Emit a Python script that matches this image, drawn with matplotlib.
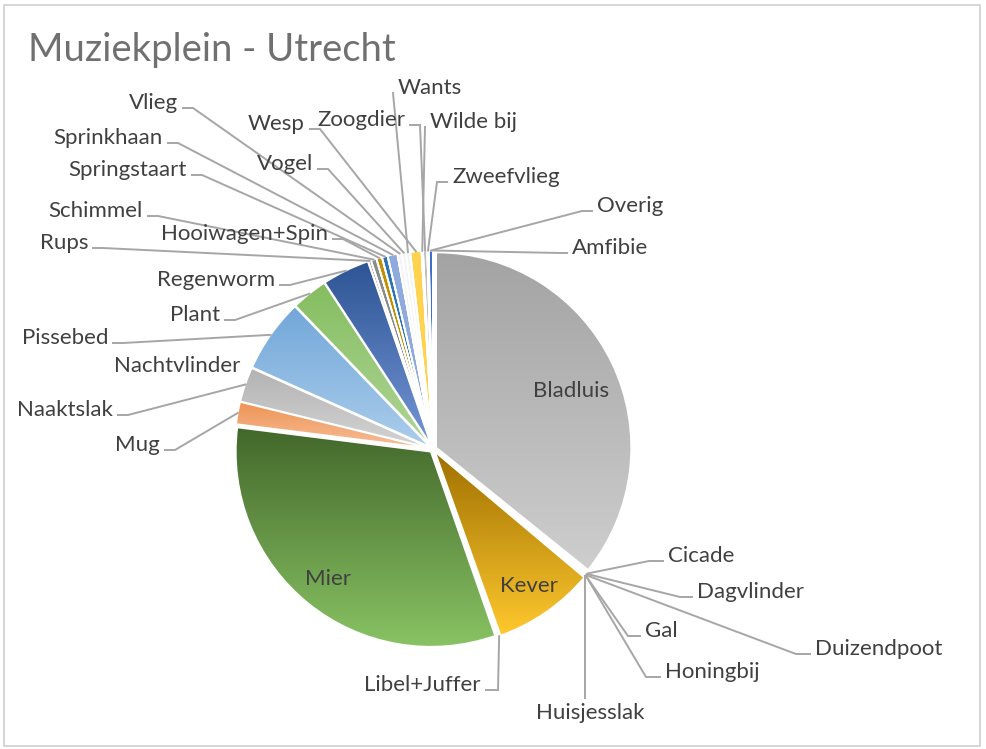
import numpy as np
import matplotlib
matplotlib.use("Agg")
import matplotlib.pyplot as plt
from matplotlib.colors import LinearSegmentedColormap
from matplotlib.patches import Wedge, Rectangle

plt.rcParams['font.family'] = ['Lato', 'DejaVu Sans']

# data, clockwise from 12 o'clock
categories = ["Amfibie", "Bladluis", "Cicade", "Dagvlinder", "Duizendpoot", "Gal",
              "Honingbij", "Huisjesslak", "Kever", "Libel+Juffer", "Mier", "Mug",
              "Naaktslak", "Nachtvlinder", "Pissebed", "Plant", "Regenworm", "Rups",
              "Schimmel", "Hooiwagen+Spin", "Springstaart", "Sprinkhaan", "Vlieg",
              "Vogel", "Wants", "Wesp", "Wilde bij", "Zoogdier", "Zweefvlieg", "Overig"]
counts = [0, 311, 0, 1, 1, 0,
          0, 1, 73, 1, 281, 16,
          25, 0, 53, 26, 34, 2,
          4, 4, 4, 7, 3,
          3, 3, 8, 1, 3, 1, 3]

# gradient fill per slice (top colour, bottom colour)
top_colors = ["#4472C4", "#A3A3A3", "#FFC000", "#9DC3E6", "#70AD47", "#264478",
              "#9E480E", "#9DC3E6", "#9E7000", "#264478", "#42672A", "#EE9352",
              "#B3B3B3", "#FFD966", "#72A7D9", "#84BD5F", "#2D5494", "#A5A5A5",
              "#8C8C8C", "#BF9000", "#2E75B6", "#8FAADC", "#F4F4F4",
              "#F4F4F4", "#F4F4F4", "#FFD34F", "#E0E0E0", "#BFBFBF", "#F0F0F0", "#3F6FC6"]
bottom_colors = list(top_colors)
bottom_colors[1] = "#CECECE"
bottom_colors[8] = "#FFC82E"
bottom_colors[10] = "#89C364"
bottom_colors[11] = "#F7BE98"
bottom_colors[12] = "#D4D4D4"
bottom_colors[14] = "#ABCDEB"
bottom_colors[15] = "#B0D597"
bottom_colors[16] = "#7595D6"

W, H = 986, 749


def img(x, y):
    # picture pixel -> data coords (y up)
    return x, H - y


# text positions in picture pixels: (x, y, ha, stub)
label_pos = {
    "Vlieg": (178, 103, "right", 10),
    "Sprinkhaan": (163, 138, "right", 10),
    "Springstaart": (187, 170, "right", 10),
    "Schimmel": (143, 211, "right", 10),
    "Rups": (88, 243, "right", 10),
    "Hooiwagen+Spin": (328, 234, "right", 10),
    "Vogel": (313, 164, "right", 10),
    "Wesp": (305, 124, "right", 10),
    "Zoogdier": (405, 120, "right", 10),
    "Regenworm": (275, 280, "right", 10),
    "Plant": (220, 315, "right", 10),
    "Pissebed": (108, 338, "right", 10),
    "Nachtvlinder": (240, 366, "right", None),
    "Naaktslak": (113, 410, "right", 10),
    "Mug": (160, 445, "right", 10),
    "Libel+Juffer": (481, 685, "right", 12),
    "Wants": (398, 88, "left", 0),
    "Wilde bij": (430, 122, "left", 0),
    "Zweefvlieg": (452, 177, "left", 10),
    "Overig": (597, 206, "left", 10),
    "Amfibie": (572, 248, "left", 6),
    "Cicade": (668, 556, "left", 14),
    "Dagvlinder": (697, 592, "left", 12),
    "Duizendpoot": (815, 649, "left", 14),
    "Gal": (645, 631, "left", 12),
    "Honingbij": (665, 672, "left", 14),
    "Huisjesslak": (590, 713, "center", 0),
}
# inside labels: (fraction of radius, angle shift in degrees)
inside = {"Bladluis": (0.75, -3), "Kever": (0.84, 0), "Mier": (0.84, 0)}

fig = plt.figure(figsize=(W / 100, H / 100), dpi=100)
ax = fig.add_axes([0, 0, 1, 1])

radius = 195
wedges, _ = ax.pie(counts, startangle=90, counterclock=False, radius=radius,
                   center=img(433, 449), explode=[3.5] * len(counts),
                   wedgeprops=dict(edgecolor="white", linewidth=1.2))

ramp = np.linspace(0, 1, 256).reshape(-1, 1)
for w, c_top, c_bot in zip(wedges, top_colors, bottom_colors):
    w.set_facecolor(c_top)
    if c_top != c_bot and w.theta2 - w.theta1 > 1:
        x0, y0, x1, y1 = w.get_path().get_extents().extents
        cmap = LinearSegmentedColormap.from_list("g", [c_top, c_bot])
        im = ax.imshow(ramp, cmap=cmap, extent=(x0, x1, y0, y1), origin="upper",
                       aspect="auto", interpolation="bilinear", zorder=1.5)
        im.set_clip_path(w)
    ax.add_patch(Wedge(w.center, w.r, w.theta1, w.theta2, facecolor="none",
                       edgecolor="white", linewidth=1.2, zorder=2))

text_kw = dict(fontsize=16, color="#404040", va="center", zorder=4)
line_kw = dict(color="#A6A6A6", lw=1.4, zorder=3, solid_joinstyle="miter")

for name, w in zip(categories, wedges):
    mid = np.deg2rad((w.theta1 + w.theta2) / 2)
    cx, cy = w.center
    if name in inside:
        f, shift = inside[name]
        a = mid + np.deg2rad(shift)
        ax.text(cx + f * w.r * np.cos(a), cy + f * w.r * np.sin(a), name,
                ha="center", **text_kw)
        continue
    x, y, ha, stub = label_pos[name]
    ax.text(*img(x, y), name, ha=ha, **text_kw)
    if stub is None:
        continue
    target = (cx + w.r * np.cos(mid), cy + w.r * np.sin(mid))
    if ha == "right":
        start, elbow = img(x + 5, y + 5), img(x + 5 + stub, y + 5)
    elif ha == "left":
        start, elbow = img(x - 5, y + 5), img(x - 5 - stub, y + 5)
    else:
        start = elbow = img(target[0], y - 15)
    ax.plot([start[0], elbow[0], target[0]], [start[1], elbow[1], target[1]], **line_kw)

fig.text(28 / W, 1 - 50 / H, "Muziekplein - Utrecht", fontsize=27.5,
         color="#707070", va="center", ha="left")

ax.add_patch(Rectangle(img(4, 746), 976, 741, facecolor="none", edgecolor="#D0D0D0",
                       lw=1.2, zorder=0))
ax.set_xlim(0, W)
ax.set_ylim(0, H)
ax.set_aspect("auto")
ax.axis("off")

fig.savefig("out.png", dpi=100)
